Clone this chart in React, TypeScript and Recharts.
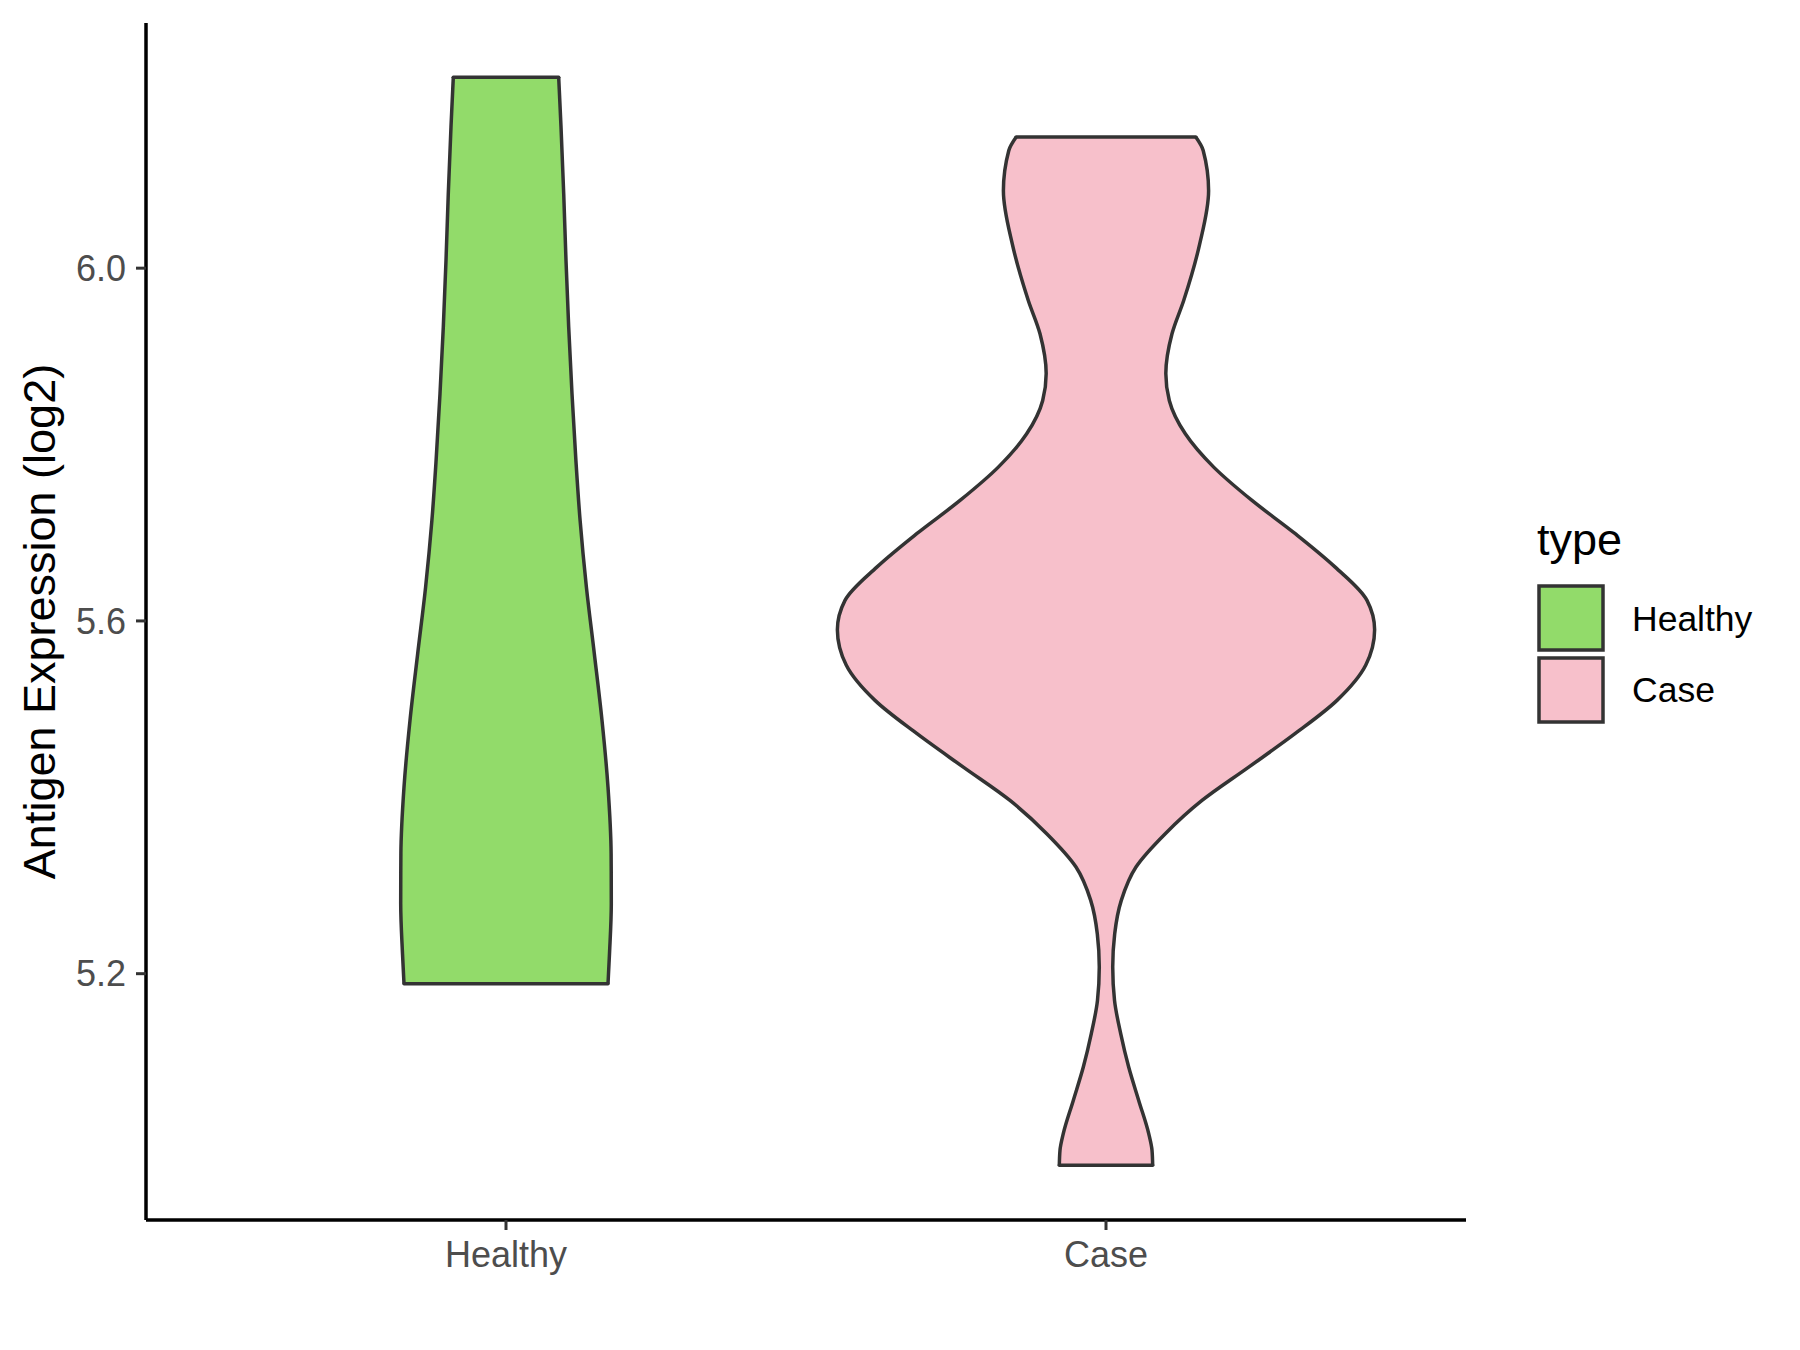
import { ComposedChart, Area, XAxis, YAxis, ReferenceLine } from "recharts"

const categories = ["Healthy", "Case"]
const categoryPos = [1, 2]

// violin outlines: expression level -> half width (in x units)
const healthyLevels = [
  6.2166, 6.1599, 6.0844, 6.0087, 5.9331, 5.8576, 5.782, 5.7139, 5.6383, 5.5628, 5.4872,
  5.4116, 5.336, 5.2794, 5.2227, 5.1887
]
const healthyHalfWidth = [
  0.0878, 0.0917, 0.0962, 0.1, 0.1045, 0.11, 0.1165, 0.1235, 0.134, 0.1472, 0.16, 0.17,
  0.1752, 0.1755, 0.1725, 0.17
]

const caseLevels = [
  6.1486, 6.1334, 6.0878, 6.027, 5.9634, 5.9256, 5.8806, 5.85, 5.8122, 5.7744, 5.7366,
  5.6989, 5.661, 5.6233, 5.59, 5.55, 5.5099, 5.4721, 5.4342, 5.3964, 5.3587, 5.3209, 5.2831,
  5.2453, 5.2075, 5.1698, 5.132, 5.0941, 5.0563, 5.0186, 4.9997, 4.9827
]
const caseHalfWidth = [
  0.1497, 0.162, 0.171, 0.156, 0.1295, 0.11, 0.0997, 0.1055, 0.1322, 0.1795, 0.2433, 0.3155,
  0.382, 0.435, 0.4477, 0.433, 0.385, 0.315, 0.2378, 0.16, 0.0988, 0.05, 0.0255, 0.0145,
  0.0112, 0.0142, 0.0245, 0.0378, 0.0545, 0.0712, 0.0767, 0.0778
]

const yTicks = [5.2, 5.6, 6.0]
const colors = ["#92DB6A", "#F7C0CB"]
const outline = "#333333"
const font = "'Liberation Sans', Arial, sans-serif"

const toRows = (levels: number[], hw: number[], center: number) =>
  levels.map((y, i) => ({ y, range: [center - hw[i], center + hw[i]] }))

const violins = [
  toRows(healthyLevels, healthyHalfWidth, categoryPos[0]),
  toRows(caseLevels, caseHalfWidth, categoryPos[1])
]

export default function App() {
  return (
    <div style={{ position: "absolute", left: 0, top: 0, width: 1800, height: 1350, background: "#fff" }}>
      <ComposedChart
        width={1800}
        height={1350}
        layout="vertical"
        margin={{ top: 23, right: 334, bottom: 0, left: 0 }}
        style={{ fontFamily: font }}
      >
        <XAxis
          type="number"
          dataKey="range"
          domain={[0.4, 2.6]}
          ticks={categoryPos}
          tickFormatter={v => categories[categoryPos.indexOf(v)] ?? ""}
          allowDataOverflow
          height={130}
          axisLine={{ stroke: "#000", strokeWidth: 3.5 }}
          tickLine={{ stroke: outline, strokeWidth: 3 }}
          tickSize={10}
          tickMargin={11}
          tick={{ fill: "#4D4D4D", fontSize: 36, fontFamily: font }}
        />
        <YAxis
          type="number"
          dataKey="y"
          reversed
          domain={[4.9207, 6.278]}
          ticks={yTicks}
          tickFormatter={v => v.toFixed(1)}
          allowDataOverflow
          width={146}
          axisLine={{ stroke: "#000", strokeWidth: 3.5 }}
          tickLine={{ stroke: outline, strokeWidth: 3 }}
          tickSize={10}
          tickMargin={10}
          tick={{ fill: "#4D4D4D", fontSize: 36, fontFamily: font }}
          label={{
            value: "Antigen Expression (log2)",
            angle: -90,
            position: "insideLeft",
            offset: 39,
            fill: "#000",
            fontSize: 45,
            fontFamily: font,
            style: { textAnchor: "middle" }
          }}
        />
        {violins.map((rows, i) => (
          <Area
            key={categories[i]}
            data={rows}
            dataKey="range"
            type="monotone"
            fill={colors[i]}
            fillOpacity={1}
            stroke={outline}
            strokeWidth={3.5}
            dot={false}
            activeDot={false}
            isAnimationActive={false}
          />
        ))}
        {violins.flatMap((rows, i) =>
          [rows[0], rows[rows.length - 1]].map((r, j) => (
            <ReferenceLine
              key={`${categories[i]}-${j}`}
              segment={[
                { x: r.range[0], y: r.y },
                { x: r.range[1], y: r.y }
              ]}
              stroke={outline}
              strokeWidth={3.5}
              strokeLinecap="round"
            />
          ))
        )}
      </ComposedChart>

      <svg width={300} height={240} style={{ position: "absolute", left: 1500, top: 500, fontFamily: font }}>
        <text x={37} y={55} fontSize={45} fill="#000">type</text>
        {categories.map((c, i) => (
          <g key={c}>
            <rect x={39} y={86 + i * 72} width={64} height={64} fill={colors[i]} stroke={outline} strokeWidth={3.5} />
            <text x={132} y={131 + i * 71} fontSize={35.5} fill="#000">{c}</text>
          </g>
        ))}
      </svg>
    </div>
  )
}
